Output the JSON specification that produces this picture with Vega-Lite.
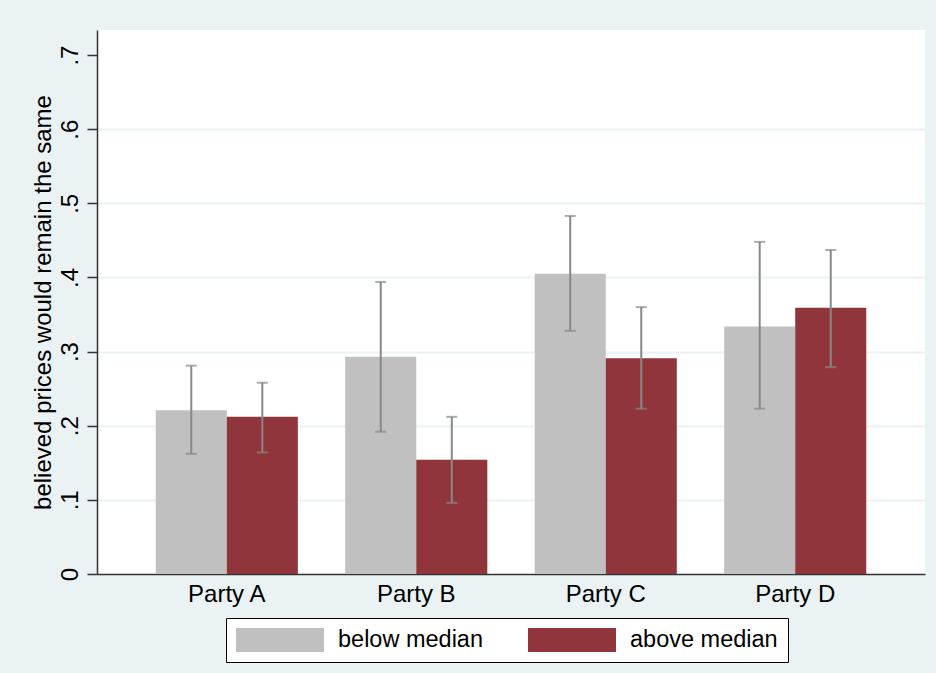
{
  "$schema": "https://vega.github.io/schema/vega-lite/v6.json",
  "width": 828,
  "height": 544,
  "autosize": {"type": "none"},
  "padding": {"left": 97, "top": 30, "right": 11, "bottom": 99},
  "background": "#eaf2f3",
  "config": {
    "view": {"fill": "white", "stroke": null},
    "font": "Liberation Sans",
    "axis": {"labelColor": "black", "titleColor": "black"}
  },
  "data": {
    "values": [
      {"party": "Party A", "group": "below median", "share": 0.221, "lo": 0.162, "hi": 0.281},
      {"party": "Party A", "group": "above median", "share": 0.212, "lo": 0.164, "hi": 0.258},
      {"party": "Party B", "group": "below median", "share": 0.293, "lo": 0.192, "hi": 0.394},
      {"party": "Party B", "group": "above median", "share": 0.154, "lo": 0.096, "hi": 0.212},
      {"party": "Party C", "group": "below median", "share": 0.405, "lo": 0.328, "hi": 0.483},
      {"party": "Party C", "group": "above median", "share": 0.291, "lo": 0.223, "hi": 0.360},
      {"party": "Party D", "group": "below median", "share": 0.334, "lo": 0.223, "hi": 0.448},
      {"party": "Party D", "group": "above median", "share": 0.359, "lo": 0.279, "hi": 0.437}
    ]
  },
  "encoding": {
    "x": {
      "field": "party",
      "type": "nominal",
      "scale": {"paddingInner": 0.25, "paddingOuter": 0.31},
      "axis": {
        "title": null,
        "labelAngle": 0,
        "labelFontSize": 24,
        "labelPadding": 8,
        "ticks": false,
        "domainColor": "#333333",
        "domainWidth": 1.5
      }
    },
    "xOffset": {
      "field": "group",
      "type": "nominal",
      "sort": ["below median", "above median"],
      "scale": {"paddingInner": 0, "paddingOuter": 0}
    }
  },
  "layer": [
    {
      "mark": {"type": "bar"},
      "encoding": {
        "y": {
          "field": "share",
          "type": "quantitative",
          "scale": {"domain": [0, 0.7338], "nice": false},
          "axis": {
            "title": "believed prices would remain the same",
            "titleFontSize": 24,
            "titleFontWeight": "normal",
            "titlePadding": 3,
            "values": [0, 0.1, 0.2, 0.3, 0.4, 0.5, 0.6, 0.7],
            "labelExpr": "datum.value == 0 ? '0' : replace(format(datum.value, '.1f'), '0.', '.')",
            "labelAngle": -90,
            "labelAlign": "center",
            "labelBaseline": "bottom",
            "labelFontSize": 24,
            "labelPadding": 5,
            "tickSize": 10,
            "tickColor": "#333333",
            "tickWidth": 1.5,
            "domainColor": "#333333",
            "domainWidth": 1.5,
            "grid": true,
            "gridColor": "#eaf2f3",
            "gridWidth": 2,
            "gridOpacity": {"condition": {"test": "datum.value == 0 || datum.value > 0.65", "value": 0}, "value": 1}
          }
        },
        "color": {
          "field": "group",
          "type": "nominal",
          "sort": ["below median", "above median"],
          "scale": {"domain": ["below median", "above median"], "range": ["#c0c0c0", "#90353b"]},
          "legend": {
            "title": null,
            "orient": "none",
            "legendX": 129,
            "legendY": 588,
            "direction": "horizontal",
            "padding": 10,
            "fillColor": "white",
            "strokeColor": "black",
            "labelFontSize": 23.5,
            "labelColor": "black",
            "labelOffset": 78,
            "columnPadding": 44,
            "symbolType": "M-1,-1L6.333,-1L6.333,1L-1,1Z",
            "symbolSize": 576,
            "symbolStrokeWidth": 0,
            "symbolOpacity": 1
          }
        }
      }
    },
    {
      "mark": {"type": "rule", "color": "#888888", "strokeWidth": 2},
      "encoding": {
        "y": {"field": "lo", "type": "quantitative"},
        "y2": {"field": "hi"}
      }
    },
    {
      "mark": {"type": "tick", "color": "#888888", "size": 11, "thickness": 2},
      "encoding": {"y": {"field": "lo", "type": "quantitative"}}
    },
    {
      "mark": {"type": "tick", "color": "#888888", "size": 11, "thickness": 2},
      "encoding": {"y": {"field": "hi", "type": "quantitative"}}
    }
  ]
}
